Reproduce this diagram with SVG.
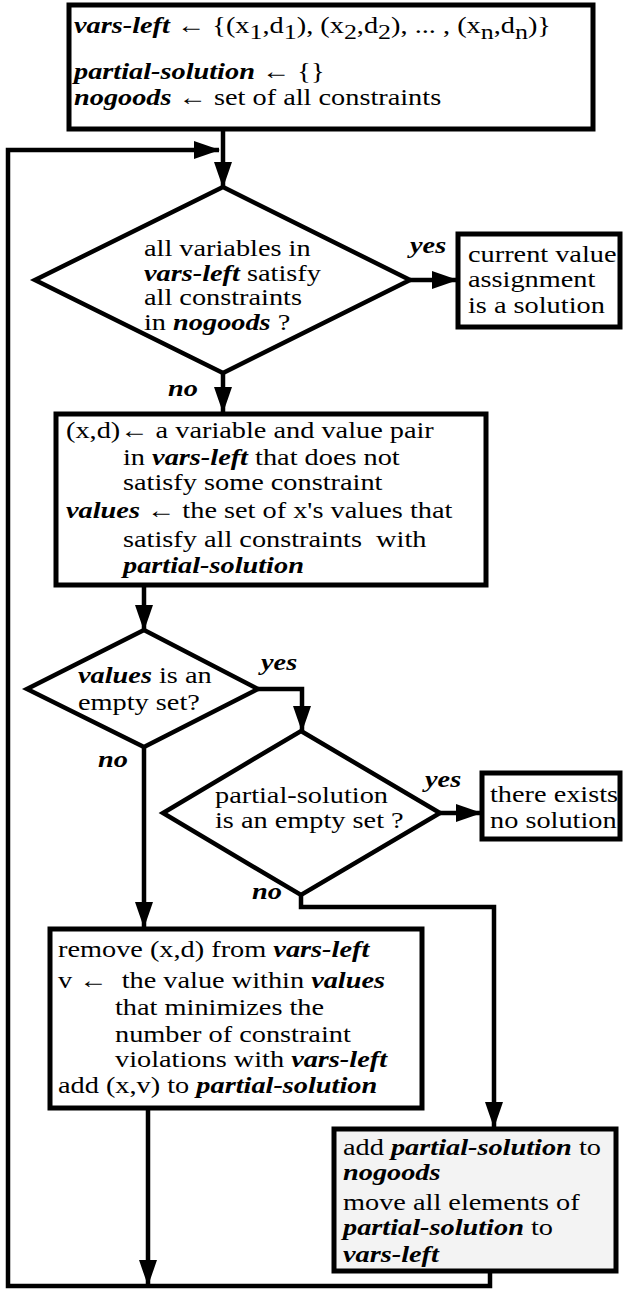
<svg xmlns="http://www.w3.org/2000/svg" width="624" height="1289" viewBox="0 0 624 1289">
<style>
.box{fill:#fff;stroke:#000;stroke-width:5}
.gray{fill:#f3f3f3}
.dia{fill:#fff;stroke:#000;stroke-width:4.5;stroke-linejoin:miter}
.con{fill:none;stroke:#000;stroke-width:4.5}
text{font-family:"Liberation Serif","Times New Roman",serif;font-size:24px;fill:#000;white-space:pre}
.b{font-weight:bold;font-style:italic}
.s{font-size:22px}
</style>
<defs>
<marker id="ah" markerUnits="userSpaceOnUse" markerWidth="26" markerHeight="18" refX="25" refY="9" orient="auto">
<path d="M0,0 L26,9 L0,18 Z" fill="#000"/>
</marker>
</defs>
<rect width="624" height="1289" fill="#fff"/>
<g id="connectors">
<path class="con" d="M223,129 V187" marker-end="url(#ah)"/>
<path class="con" d="M490,1271 V1286 H8 V150 H219" marker-end="url(#ah)"/>
<path class="con" d="M410,280 H457" marker-end="url(#ah)"/>
<path class="con" d="M223,373 V412" marker-end="url(#ah)"/>
<path class="con" d="M144,585 V630" marker-end="url(#ah)"/>
<path class="con" d="M258,689 H302 V731" marker-end="url(#ah)"/>
<path class="con" d="M144,747 V927" marker-end="url(#ah)"/>
<path class="con" d="M440,813 H481" marker-end="url(#ah)"/>
<path class="con" d="M301,895 V907 H494 V1127" marker-end="url(#ah)"/>
<path class="con" d="M148,1108 V1285" marker-end="url(#ah)"/>
<text class="b" transform="translate(410,253) scale(1.18,1)">yes</text>
<text class="b" transform="translate(168,396) scale(1.18,1)">no</text>
<text class="b" transform="translate(261,670) scale(1.18,1)">yes</text>
<text class="b" transform="translate(98,767) scale(1.18,1)">no</text>
<text class="b" transform="translate(425,787) scale(1.18,1)">yes</text>
<text class="b" transform="translate(252,899) scale(1.18,1)">no</text>
</g>
<g id="init">
<rect class="box" x="69" y="5" width="524" height="124"/>
<text transform="translate(74,33) scale(1.18,1)"><tspan class="b">vars-left</tspan> ← {(x<tspan class="s" dy="6">1</tspan><tspan dy="-6">,d</tspan><tspan class="s" dy="6">1</tspan><tspan dy="-6">), (x</tspan><tspan class="s" dy="6">2</tspan><tspan dy="-6">,d</tspan><tspan class="s" dy="6">2</tspan><tspan dy="-6">), ... , (x</tspan><tspan class="s" dy="6">n</tspan><tspan dy="-6">,d</tspan><tspan class="s" dy="6">n</tspan><tspan dy="-6">)}</tspan></text>
<text transform="translate(74,79) scale(1.18,1)"><tspan class="b">partial-solution</tspan> ← {}</text>
<text transform="translate(74,105) scale(1.18,1)"><tspan class="b">nogoods</tspan> ← set of all constraints</text>
</g>
<g id="check-all">
<polygon class="dia" points="223,187 410,280 223,373 35,280"/>
<text transform="translate(144,256) scale(1.18,1)">all variables in</text>
<text transform="translate(144,280.5) scale(1.18,1)"><tspan class="b">vars-left</tspan> satisfy</text>
<text transform="translate(144,305) scale(1.18,1)">all constraints</text>
<text transform="translate(144,329.5) scale(1.18,1)">in <tspan class="b">nogoods</tspan> ?</text>
</g>
<g id="solution">
<rect class="box" x="458" y="234" width="162" height="93"/>
<text transform="translate(468,262) scale(1.18,1)">current value</text>
<text transform="translate(468,287) scale(1.18,1)">assignment</text>
<text transform="translate(468,313) scale(1.18,1)">is a solution</text>
</g>
<g id="select">
<rect class="box" x="56" y="414" width="430" height="171"/>
<text transform="translate(66,438) scale(1.18,1)">(x,d)← a variable and value pair</text>
<text transform="translate(123,465) scale(1.18,1)">in <tspan class="b">vars-left</tspan> that does not</text>
<text transform="translate(123,490) scale(1.18,1)">satisfy some constraint</text>
<text transform="translate(66,518) scale(1.18,1)"><tspan class="b">values</tspan> ← the set of x's values that</text>
<text transform="translate(123,547) scale(1.18,1)">satisfy all constraints  with</text>
<text transform="translate(123,573) scale(1.18,1)"><tspan class="b">partial-solution</tspan></text>
</g>
<g id="values-empty">
<polygon class="dia" points="144,630 258,689 144,747 27,689"/>
<text transform="translate(78,683) scale(1.18,1)"><tspan class="b">values</tspan> is an</text>
<text transform="translate(78,710) scale(1.18,1)">empty set?</text>
</g>
<g id="partial-empty">
<polygon class="dia" points="301,731 440,813 301,895 163,813"/>
<text transform="translate(215,803) scale(1.18,1)">partial-solution</text>
<text transform="translate(215,828) scale(1.18,1)">is an empty set ?</text>
</g>
<g id="no-solution">
<rect class="box" x="482" y="773" width="138" height="66"/>
<text transform="translate(490,802) scale(1.18,1)">there exists</text>
<text transform="translate(490,828) scale(1.18,1)">no solution</text>
</g>
<g id="assign">
<rect class="box" x="50" y="929" width="372" height="179"/>
<text transform="translate(58,957) scale(1.18,1)">remove (x,d) from <tspan class="b">vars-left</tspan></text>
<text transform="translate(58,988) scale(1.18,1)">v ←  the value within <tspan class="b">values</tspan></text>
<text transform="translate(115,1015) scale(1.18,1)">that minimizes the</text>
<text transform="translate(115,1042) scale(1.18,1)">number of constraint</text>
<text transform="translate(115,1067) scale(1.18,1)">violations with <tspan class="b">vars-left</tspan></text>
<text transform="translate(58,1093) scale(1.18,1)">add (x,v) to <tspan class="b">partial-solution</tspan></text>
</g>
<g id="backtrack">
<rect class="box gray" x="334" y="1129" width="282" height="142"/>
<text transform="translate(343,1155) scale(1.18,1)">add <tspan class="b">partial-solution</tspan> to</text>
<text transform="translate(343,1180) scale(1.18,1)"><tspan class="b">nogoods</tspan></text>
<text transform="translate(343,1210) scale(1.18,1)">move all elements of</text>
<text transform="translate(343,1235) scale(1.18,1)"><tspan class="b">partial-solution</tspan> to</text>
<text transform="translate(343,1262) scale(1.18,1)"><tspan class="b">vars-left</tspan></text>
</g>
</svg>
